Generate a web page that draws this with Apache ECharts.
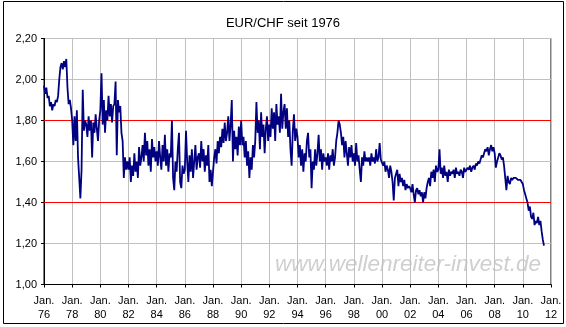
<!DOCTYPE html>
<html><head><meta charset="utf-8">
<script src="https://cdn.jsdelivr.net/npm/echarts@6/dist/echarts.min.js"></script>
<style>html,body{margin:0;padding:0;background:#fff}#c{width:566px;height:327px}</style>
</head><body><div id="c"></div>
<script>
// Monthly EUR/CHF values, starting Jan 1976
const v1976_79 = [
1.97,1.93,1.96,1.91,1.92,1.87,1.89,1.85,1.88,1.87,1.90,1.89,
1.92,2.00,2.06,2.08,2.05,2.09,2.06,2.10,1.96,1.88,1.90,1.86,
1.80,1.68,1.82,1.70,1.85,1.62,1.52,1.42,1.56,1.95,1.75,1.80,
1.78,1.72,1.82,1.75,1.80,1.62,1.79,1.74,1.83,1.76,1.70,1.80];
const v1980s = [
1.85,2.03,1.78,1.90,1.74,1.85,1.80,1.92,1.82,1.88,1.79,1.87,
1.88,1.99,1.63,1.90,1.84,1.87,1.74,1.70,1.52,1.62,1.56,1.60,
1.56,1.62,1.50,1.58,1.53,1.64,1.55,1.60,1.52,1.67,1.58,1.62,
1.68,1.60,1.74,1.63,1.70,1.58,1.66,1.55,1.71,1.62,1.67,1.60,
1.65,1.58,1.70,1.62,1.56,1.68,1.60,1.73,1.58,1.66,1.55,1.64,
1.62,1.80,1.52,1.46,1.60,1.55,1.66,1.74,1.50,1.47,1.58,1.54,
1.56,1.75,1.60,1.50,1.63,1.55,1.66,1.52,1.60,1.68,1.56,1.62,
1.64,1.57,1.70,1.60,1.66,1.55,1.63,1.58,1.68,1.50,1.56,1.48,
1.55,1.62,1.66,1.59,1.70,1.64,1.72,1.67,1.76,1.69,1.79,1.70,
1.74,1.82,1.70,1.78,1.90,1.60,1.75,1.66,1.72,1.63,1.77,1.68];
const v1990s = [
1.80,1.68,1.72,1.62,1.70,1.58,1.65,1.52,1.62,1.56,1.68,1.62,
1.70,1.89,1.74,1.80,1.66,1.84,1.72,1.78,1.64,1.76,1.82,1.70,
1.78,1.72,1.86,1.76,1.84,1.70,1.88,1.78,1.82,1.74,1.93,1.76,
1.84,1.88,1.76,1.86,1.72,1.80,1.66,1.58,1.75,1.83,1.70,1.76,
1.72,1.62,1.68,1.58,1.66,1.55,1.64,1.60,1.70,1.74,1.62,1.66,
1.47,1.60,1.56,1.66,1.58,1.64,1.73,1.60,1.66,1.56,1.64,1.60,
1.62,1.58,1.64,1.56,1.63,1.60,1.66,1.58,1.62,1.70,1.74,1.80,
1.78,1.74,1.68,1.72,1.62,1.70,1.64,1.58,1.67,1.62,1.68,1.60,
1.64,1.58,1.69,1.60,1.63,1.56,1.50,1.62,1.58,1.65,1.60,1.62,
1.60,1.62,1.58,1.64,1.60,1.62,1.59,1.66,1.60,1.62,1.69,1.61];
const v2000s = [
1.61,1.58,1.60,1.55,1.58,1.56,1.52,1.58,1.55,1.50,1.41,1.52,
1.52,1.56,1.48,1.54,1.50,1.52,1.48,1.51,1.46,1.49,1.47,1.48,
1.47,1.45,1.49,1.44,1.40,1.46,1.47,1.44,1.46,1.43,1.45,1.40,
1.45,1.42,1.47,1.50,1.52,1.48,1.55,1.52,1.56,1.50,1.58,1.55,
1.56,1.66,1.54,1.57,1.52,1.58,1.53,1.55,1.50,1.56,1.53,1.55,
1.54,1.56,1.52,1.57,1.54,1.55,1.53,1.56,1.55,1.52,1.57,1.55,
1.55,1.57,1.56,1.58,1.55,1.57,1.58,1.56,1.59,1.58,1.60,1.59,
1.61,1.63,1.62,1.64,1.66,1.65,1.67,1.63,1.66,1.68,1.65,1.67,
1.64,1.57,1.60,1.62,1.64,1.63,1.61,1.62,1.58,1.52,1.46,1.53,
1.50,1.49,1.52,1.51,1.52,1.52,1.52,1.52,1.51,1.51,1.51,1.50];
const v2010s = [
1.49,1.46,1.44,1.42,1.40,1.36,1.38,1.33,1.32,1.35,1.29,1.31,
1.30,1.33,1.29,1.31,1.26,1.22,1.19];
const startYear = 1976;
const refLines = [1.80, 1.40];
const yTicks = {min:1.0, max:2.2, step:0.2};
const xTicks = {min:1976, max:2012, step:2};

const values = [].concat(v1976_79, v1980s, v1990s, v2000s, v2010s);
const data = values.map((v,i)=>[startYear + i/12, v]);

const chart = echarts.init(document.getElementById('c'), null, {renderer:'canvas'});
const font = 'Liberation Sans, Arial, sans-serif';
const refSeries = refLines.map(v=>({
  type:'line', data:[[xTicks.min, v],[xTicks.max, v]], showSymbol:false, symbol:'none',
  silent:true, z:2, color:'#ff0000',
  lineStyle:{color:'#ff0000', width:1, type:'solid'}
}));
chart.setOption({
  animation:false,
  backgroundColor:'#fff',
  title:{text:'EUR/CHF seit 1976', left:'center', top:12,
    textStyle:{fontFamily:font, fontSize:13, fontWeight:'normal', color:'#000'}},
  grid:{left:44, right:15, top:38.5, height:246, show:true, borderColor:'#000', borderWidth:1, backgroundColor:'transparent'},
  graphic:[
    {type:'rect', shape:{x:3.5,y:1.5,width:560,height:322}, style:{fill:'none', stroke:'#000', lineWidth:1}, z:-1},
    {type:'text', left:275, top:253, z:0, style:{text:'www.wellenreiter-invest.de', fill:'#cfcfcf',
      font:'italic 22.5px Liberation Sans, Arial, sans-serif'}}
  ],
  xAxis:{type:'value', min:xTicks.min, max:xTicks.max, interval:xTicks.step,
    axisLine:{show:true, lineStyle:{color:'#000'}},
    axisTick:{show:true, inside:false, length:3, lineStyle:{color:'#000'}},
    splitLine:{show:true, lineStyle:{color:'#c0c0c0', width:1}},
    axisLabel:{fontFamily:font, fontSize:11, color:'#000', margin:9, lineHeight:14,
      formatter:v=>'Jan.\n'+String(Math.round(v)).slice(2)}},
  yAxis:{type:'value', min:yTicks.min, max:yTicks.max, interval:yTicks.step,
    axisLine:{show:true, lineStyle:{color:'#000'}},
    axisTick:{show:true, inside:false, length:3, lineStyle:{color:'#000'}},
    splitLine:{show:true, lineStyle:{color:'#c0c0c0', width:1}},
    axisLabel:{fontFamily:font, fontSize:11, color:'#000', margin:7,
      formatter:v=>v.toFixed(2).replace('.',',')}},
  series:[
    {type:'line', data:data, showSymbol:false, symbol:'none', color:'#000080',
      lineStyle:{color:'#000080', width:1.8, join:'bevel'}, z:3}
  ].concat(refSeries)
});
</script></body></html>
